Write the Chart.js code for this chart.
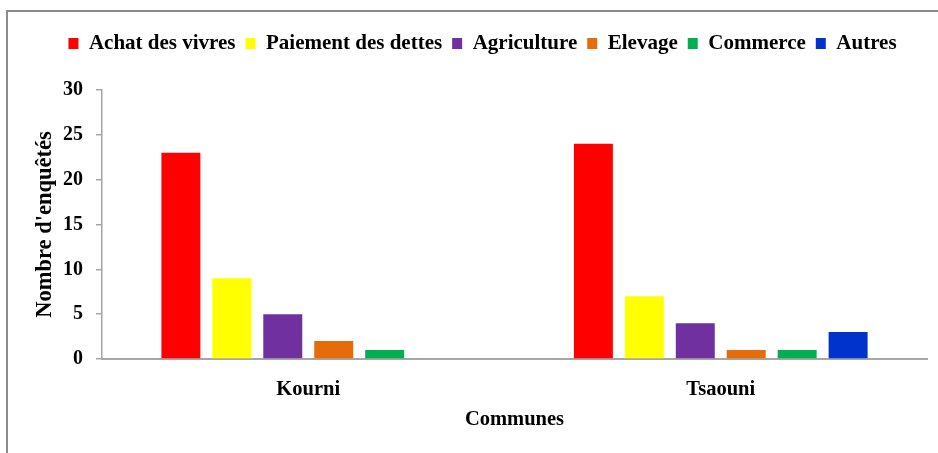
<!DOCTYPE html>
<html>
<head>
<meta charset="utf-8">
<script src="https://cdn.jsdelivr.net/npm/chart.js@4/dist/chart.umd.min.js"></script>
<style>
  html, body { margin: 0; padding: 0; background: #fff; }
  #wrap { position: relative; width: 938px; height: 453px; overflow: hidden; }
  #frame { position: absolute; left: 6px; top: 10px; width: 960px; height: 480px;
           border-top: 2px solid #8c8c8c; border-left: 2px solid #8c8c8c; pointer-events: none; }
  canvas { position: absolute; left: 0; top: 0; }
</style>
</head>
<body>
<div id="wrap">
  <canvas id="c" width="938" height="453"></canvas>
  <div id="frame"></div>
</div>
<script>
const categories = ["Kourni", "Tsaouni"];
const seriesNames = ["Achat des vivres", "Paiement des dettes", "Agriculture", "Elevage", "Commerce", "Autres"];
const achatDesVivres = [23, 24];
const paiementDesDettes = [9, 7];
const agriculture = [5, 4];
const elevage = [2, 1];
const commerce = [1, 1];
const autres = [0, 3];
const yTicks = [0, 5, 10, 15, 20, 25, 30];
const colors = ["#FF0000", "#FFFF00", "#7030A0", "#E46C0A", "#00B050", "#0033CC"];

const seriesValues = [achatDesVivres, paiementDesDettes, agriculture, elevage, commerce, autres];
const FONT = "'Liberation Serif', 'Times New Roman', serif";

const datasets = seriesNames.map((name, i) => ({
  label: name,
  data: seriesValues[i],
  backgroundColor: colors[i],
  borderWidth: 0,
  categoryPercentage: 0.741,
  barPercentage: 0.765
}));

new Chart(document.getElementById('c'), {
  type: 'bar',
  data: { labels: categories, datasets },
  options: {
    responsive: false,
    animation: false,
    devicePixelRatio: 1,
    layout: { padding: { left: 38, right: 11, top: 23, bottom: 0 } },
    plugins: {
      tooltip: { enabled: false },
      title: {
        display: true,
        text: '',
        weight: 500,
        font: { size: 1, lineHeight: 1 },
        padding: { top: 0, bottom: 25 }
      },
      legend: {
        position: 'top',
        labels: {
          boxWidth: 10,
          boxHeight: 11,
          padding: 10,
          color: '#000',
          font: { family: FONT, size: 21, weight: 'bold' }
        }
      }
    },
    scales: {
      x: {
        grid: { drawOnChartArea: false, drawTicks: false },
        border: { color: '#a6a6a6', width: 2 },
        ticks: { color: '#000', padding: 18, font: { family: FONT, size: 20.5, weight: 'bold' } },
        title: { display: true, text: 'Communes', color: '#000',
                 font: { family: FONT, size: 20.5, weight: 'bold' }, padding: { top: 0, bottom: 21 } },
        afterFit: (s) => { s.height = 94; }
      },
      y: {
        min: 0, max: 30,
        afterBuildTicks: (s) => { s.ticks = yTicks.map(v => ({ value: v })); },
        grid: { drawOnChartArea: false, drawTicks: true, tickLength: 6, color: '#a6a6a6', lineWidth: 1.5 },
        border: { color: '#a6a6a6', width: 1.5 },
        ticks: { color: '#000', padding: 13, font: { family: FONT, size: 20, weight: 'bold' } },
        title: { display: true, text: "Nombre d'enquêtés", color: '#000',
                 font: { family: FONT, size: 22.5, weight: 'bold' }, padding: { top: -6, bottom: 0 } },
        afterFit: (s) => { s.width = 64; }
      }
    }
  }
});
</script>
</body>
</html>
